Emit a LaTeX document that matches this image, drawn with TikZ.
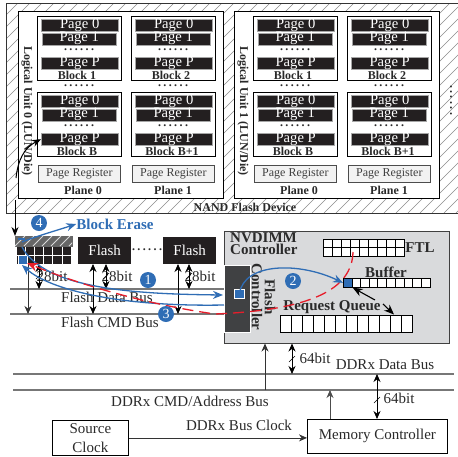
\documentclass[tikz,border=0pt]{standalone}
\usepackage{fontspec}
\setmainfont{Liberation Serif}
\usetikzlibrary{arrows.meta,calc}
\definecolor{pagek}{HTML}{231F20}
\definecolor{blueln}{HTML}{2F6DB5}
\definecolor{redln}{HTML}{E61E2B}
\definecolor{busgr}{HTML}{777777}
\definecolor{ctrlgr}{HTML}{D9DADC}
\definecolor{darkgr}{HTML}{404143}
\definecolor{txt}{HTML}{2A2A2A}
\newcommand{\fs}[1]{\fontsize{#1}{#1}\selectfont}
\newcommand{\fsb}[2]{\fontsize{#1}{#2}\selectfont}
\tikzset{
  x=1pt,y=-1pt,
  box/.style={draw=black,line width=0.9pt,fill=white,inner sep=0,anchor=north west},
  pagebar/.style={fill=pagek,draw=gray!70,line width=0.4pt,text=white,inner sep=0,anchor=north west,font=\fs{14.6},text height=9pt,text depth=3pt},
  blab/.style={font=\fs{12}\bfseries,text=txt,inner sep=0},
  regbox/.style={draw=black!70,line width=0.8pt,fill=black!5,inner sep=0,anchor=north west,minimum width=82pt,minimum height=17pt,font=\fs{12},text=black!75},
  lab/.style={font=\fs{15},text=txt,inner sep=0},
  bold15/.style={font=\fs{15}\bfseries,text=txt,inner sep=0},
  flashbox/.style={fill=pagek,text=white,inner sep=0,anchor=north west,minimum width=53pt,minimum height=27pt,font=\fs{15}},
  num/.style={circle,fill=blueln,text=white,inner sep=0,minimum size=16pt,font=\fs{14}},
  bus/.style={draw=busgr,line width=1.2pt},
  both/.style={draw=black,line width=0.8pt,{Stealth[length=8pt,width=7pt]}-{Stealth[length=8pt,width=7pt]}},
  single/.style={draw=black!80,line width=0.8pt,-{Stealth[length=8pt,width=7pt]}},
  slash/.style={draw=black,line width=0.6pt},
  bluearrow/.style={draw=blueln,line width=1.3pt,-{Stealth[length=10pt,width=8pt]}},
  redarrow/.style={draw=redln,line width=1.3pt,dash pattern=on 11pt off 6pt,-{Stealth[length=11pt,width=9pt]}},
  dots/.style={font=\fs{12}\bfseries\addfontfeature{LetterSpace=20},text=txt,inner sep=0},
}
\newcommand{\blk}[5]{% name, x, y, label, label offset
  \node[box,minimum width=84pt,minimum height=64pt] (#1) at (#2,#3) {};
  \node[pagebar,minimum width=77pt] (#1p0) at ($(#2,#3)+(4,3)$) {Page 0};
  \node[pagebar,minimum width=74pt] (#1p1) at ($(#2,#3)+(5,16.5)$) {Page 1};
  \node[dots] (#1d) at ($(#2,#3)+(42,34)$) {......};
  \node[pagebar,minimum width=77pt] (#1pp) at ($(#2,#3)+(4,41)$) {Page P};
  \node[blab] (#1l) at ($(#2,#3)+(#5,59)$) {#4};
}
\newcommand{\lun}[3]{% prefix, xshift, unit number
  \node[box,minimum width=205pt,minimum height=187pt] (#1box) at (#2+18,11) {};
  \blk{#1a}{#2+37}{16}{Block 1}{40}
  \blk{#1b}{#2+131}{16}{Block 2}{40}
  \blk{#1c}{#2+37}{92}{Block B}{40}
  \blk{#1e}{#2+131}{92}{Block B+1}{41}
  \node[dots] (#1dl) at (#2+79,86) {......};
  \node[dots] (#1dr) at (#2+173,86) {......};
  \node[regbox] (#1r0) at (#2+38,165) {Page Register};
  \node[regbox] (#1r1) at (#2+132,165) {Page Register};
  \node[blab] (#1pl0) at (#2+83,190) {Plane 0};
  \node[blab] (#1pl1) at (#2+173,190) {Plane 1};
  \node[blab,rotate=-90] (#1lu) at (#2+27,111) {Logical Unit #3 (LUN/Die)};
}
\begin{document}
\begin{tikzpicture}
\useasboundingbox (0,0) rectangle (458,456);
\fill[white] (0,0) rectangle (458,456);
% hatched device
\begin{scope}
  \clip (6,3) rectangle (458,213);
  \foreach \i in {-216,-204,...,456} \draw[black!45,line width=0.45pt] (\i,213) -- ++(220,-220);
\end{scope}
\draw[black!80,line width=0.9pt] (458,3) -- (6,3) -- (6,213) -- (458,213);
\lun{u}{0}{0}
\lun{v}{216}{1}
\node[dots,rotate=90] (more) at (451,100) {......};
\node[blab] (nand) at (245,207) {NAND Flash Device};
% small flash die
\node[fill=pagek,inner sep=0,anchor=north west,minimum width=54pt,minimum height=18pt] (sf) at (17,246) {};
\foreach \x in {25,34,43,52,62} \draw[white,line width=0.7pt] (\x,246) -- (\x,264);
\draw[white,line width=0.7pt] (17,255) -- (71,255);
\node[draw=black!60,fill=black!60,inner sep=0,anchor=north west,minimum width=57pt,minimum height=10pt,line width=0.5pt] (strip) at (15,236) {};
\begin{scope}
  \clip (15,236) rectangle (72,246);
  \foreach \i in {15,24,...,90} \draw[white!85!black,line width=1pt] (\i,246) -- ++(10,-10);
\end{scope}
\fill[blueln] (18,238) rectangle (25,240);
\node[draw=white,fill=blueln,line width=0.7pt,inner sep=0,anchor=north west,minimum width=9pt,minimum height=9pt] (sq) at (17.5,254.5) {};
% flash chips
\node[flashbox] (f1) at (78,237) {Flash};
\node[flashbox] (f2) at (163,237) {Flash};
\node[dots] (fd) at (147,250) {......};
% flash buses
\coordinate (dbl) at (10,289); \coordinate (dbr) at (224,289);
\coordinate (cbl) at (10,314); \coordinate (cbr) at (224,314);
\draw[bus] (dbl) -- (dbr);
\draw[bus] (cbl) -- (cbr);
\node[lab] (dbt) at (107,297) {Flash Data Bus};
\node[lab] (cbt) at (110,322) {Flash CMD Bus};
\node[lab] (b1) at (52,276) {28bit};
\node[lab] (b2) at (117,276) {28bit};
\node[lab] (b3) at (200,276) {28bit};
% flash bus connections
\draw[single] (28,264) -- (28,314);
\draw[both] (39,264) -- (39,289);
\draw[both] (93,264) -- (93,314);
\draw[both] (106,264) -- (106,289);
\draw[both] (178,264) -- (178,314);
\draw[both] (189,264) -- (189,289);
\draw[slash] (36,279) -- (42,273);
\draw[slash] (103,279) -- (109,273);
\draw[slash] (186,279) -- (192,273);
% NVDIMM controller
\node[box,draw=black!75,fill=ctrlgr,minimum width=225pt,minimum height=112pt] (nv) at (224,231) {};
\node[bold15,anchor=north west,align=left,font=\fsb{15}{12}\bfseries] (nvt) at (230,232) {NVDIMM\\Controller};
\node[draw=white,fill=darkgr,line width=0.7pt,inner sep=0,anchor=north west,minimum width=26pt,minimum height=67pt] (fc) at (224,265) {};
\node[draw=white,fill=blueln,line width=0.7pt,inner sep=0,anchor=north west,minimum width=10pt,minimum height=9pt] (fcs) at (234,289) {};
\node[bold15,rotate=-90] (fct1) at (270,297) {Flash};
\node[bold15,rotate=-90] (fct2) at (257,297) {Controller};
% FTL
\node[box,line width=0.7pt,minimum width=81pt,minimum height=17pt] (ftl) at (323,239) {};
\foreach \i in {1,...,8} \draw[black,line width=0.7pt] (323+9*\i,239) -- (323+9*\i,256);
\draw[black,line width=0.7pt] (323,247.5) -- (404,247.5);
\node[bold15] (ftlt) at (420,248) {FTL};
% Buffer
\node[bold15] (buft) at (386,272) {Buffer};
\node[box,line width=0.7pt,minimum width=87pt,minimum height=9pt] (buf) at (343,278) {};
\foreach \i in {1,...,9} \draw[black,line width=0.7pt] (343+8.7*\i,278) -- (343+8.7*\i,287);
\node[draw=black,fill=blueln,line width=0.7pt,inner sep=0,anchor=north west,minimum width=9pt,minimum height=9pt] (bufs) at (343,278) {};
% Request queue
\node[bold15] (rqt) at (332,307) {Request Queue};
\node[box,line width=0.7pt,minimum width=132pt,minimum height=17pt] (rq) at (280,315) {};
\foreach \i in {1,...,11} \draw[black,line width=0.7pt] (280+11*\i,315) -- (280+11*\i,332);
% black pointers
\coordinate (bp1) at (375,300);
\coordinate (bp2) at (383,304);
\coordinate (bp3) at (394,314.5);
\draw[black,line width=1.1pt,-{Stealth[length=10pt,width=8pt]}] (bp1) -- (bufs.south east);
\draw[black,line width=1.1pt,-{Stealth[length=10pt,width=8pt]}] (bp2) -- (bp3);
% DDR buses
\coordinate (dl) at (13,374); \coordinate (dr) at (454,374);
\coordinate (al) at (13,390); \coordinate (ar) at (454,390);
\draw[bus] (dl) -- (dr);
\draw[bus] (al) -- (ar);
\node[lab] (ddt) at (385,365) {DDRx Data Bus};
\node[lab] (dat) at (190,401) {DDRx CMD/Address Bus};
\node[lab] (w1) at (315,358) {64bit};
\node[lab] (w2) at (399,398) {64bit};
% clock and memory controller
\node[draw=black,line width=0.8pt,fill=white,inner sep=0,anchor=north west,minimum width=76pt,minimum height=35pt,align=center,font=\fsb{15}{19},text=txt] (clk) at (52,420) {Source\\Clock};
\node[draw=black,line width=0.8pt,fill=white,inner sep=0,anchor=north west,minimum width=140pt,minimum height=34pt,font=\fs{15},text=txt] (mc) at (307,419) {Memory Controller};
\draw[single] (clk.east) -- (mc.west |- clk.east);
\node[lab] (clkt) at (239,425) {DDRx Bus Clock};
\coordinate (mcu) at (330,419); \coordinate (busu) at (330,390);
\coordinate (mcv) at (377,419); \coordinate (busv) at (377,374);
\coordinate (nva) at (265,343.5); \coordinate (busa) at (265,390);
\coordinate (nvd) at (292,343.5); \coordinate (busd) at (292,374);
\draw[single,draw=black!70] (mcu) -- (busu);
\draw[both] (mcv) -- (busv);
\draw[slash] (374,403) -- (380,397);
\draw[single] (busa) -- (nva);
\draw[both] (nvd) -- (busd);
\draw[slash] (289,362) -- (295,356);
% die to page arrows
\coordinate (pa) at (15,200);
\coordinate (pb) at (16,178);
\coordinate (pc) at (15,236);
\draw[black,line width=1pt,-{Stealth[length=9pt,width=7pt]}] (pa) -- (pc);
\draw[black,line width=1pt,-{Stealth[length=9pt,width=7pt]}] (pb) .. controls (18,160) and (24,148) .. (ucpp.west);
% curves
\coordinate (r1) at (353,252);
\coordinate (r2) at (215,314);
\coordinate (r3) at (27,263);
\coordinate (e1) at (223,295);
\coordinate (e3) at (224,305);
\coordinate (s1) at (22,247);
\coordinate (s3) at (22,265);
\coordinate (s4) at (22,242);
\draw[bluearrow] (s1) .. controls (45,290) and (140,294) .. (e1);
\draw[bluearrow] (e3) .. controls (120,307) and (50,290) .. (s3);
\draw[redarrow] (r1) .. controls (352,290) and (310,310) .. (r2) .. controls (150,305) and (80,285) .. (r3);
\draw[bluearrow] (fcs.center) .. controls (244,262) and (300,262) .. (bufs.west);
\node[font=\fs{15}\bfseries,text=blueln,inner sep=0] (be) at (115,224) {Block Erase};
\draw[bluearrow] (s4) .. controls (40,235) and (55,231) .. (be.west);
\node[num] (n1) at (148,280) {1};
\node[num] (n2) at (293,281) {2};
\node[num] (n3) at (166,314) {3};
\node[num] (n4) at (39,223) {4};
\end{tikzpicture}
\end{document}
